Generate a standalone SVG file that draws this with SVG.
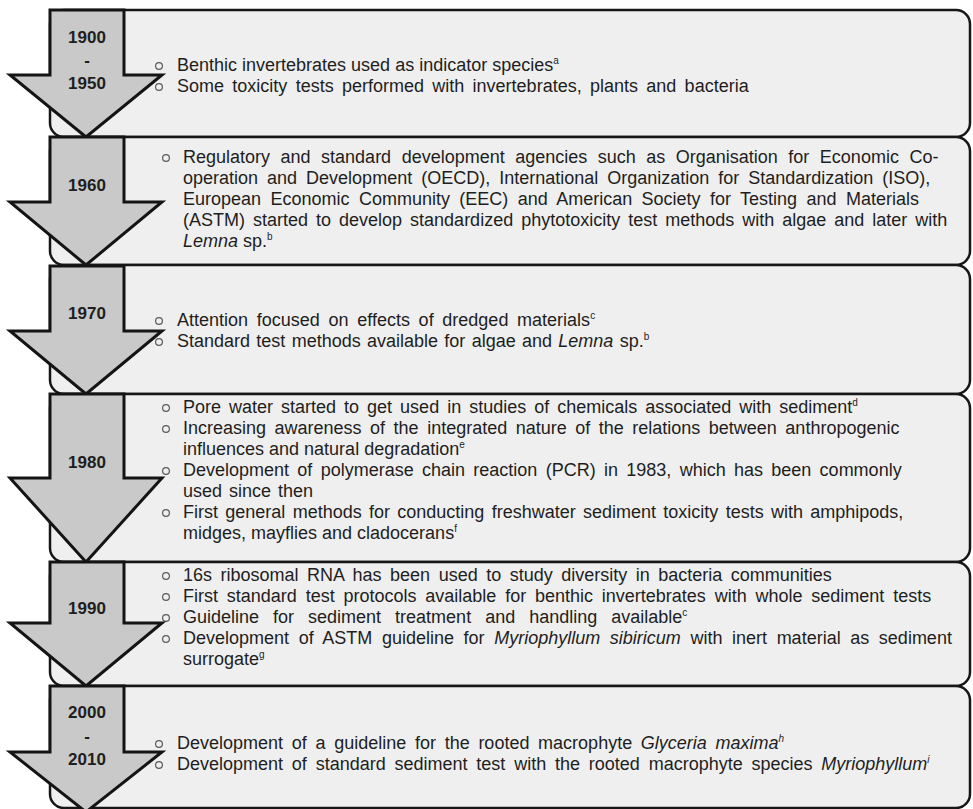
<svg xmlns="http://www.w3.org/2000/svg" width="973" height="809" viewBox="0 0 973 809">
  <style>
    .box { fill: #efefef; stroke: #161616; stroke-width: 2.5; }
    .arrow { fill: #c9c9c9; stroke: #141414; stroke-width: 3; stroke-linejoin: miter; }
    .year { font-family: "Liberation Sans", Arial, sans-serif; font-weight: bold; font-size: 17px; fill: #1e1e1e; text-anchor: middle; }
    .t { font-family: "Liberation Sans", Arial, sans-serif; font-size: 18px; fill: #1e1e1e; }
    .i { font-style: italic; }
    .sup { font-size: 10px; }
    .bul { fill: none; stroke: #5a5a5a; stroke-width: 1.2; }
  </style>
  <defs>
    <circle id="bullet" r="3.4" class="bul"/>
  </defs>
  <rect width="973" height="809" fill="#ffffff"/>

  <!-- period panels -->
  <g id="row-1900-1950">
    <rect class="box" x="50" y="10" width="920" height="127" rx="14"/>
    <use href="#bullet" x="159" y="66"/>
    <use href="#bullet" x="159" y="87"/>
    <text class="t" x="177" y="71">Benthic invertebrates used as indicator species<tspan class="sup" dy="-7">a</tspan></text>
    <text class="t" x="177" y="92" word-spacing="3.3">Some toxicity tests performed with invertebrates, plants and bacteria</text>
  </g>

  <g id="row-1960">
    <rect class="box" x="50" y="137" width="920" height="128" rx="14"/>
    <use href="#bullet" x="166" y="158"/>
    <text class="t" x="183" y="163" word-spacing="5.5">Regulatory and standard development agencies such as Organisation for Economic Co-</text>
    <text class="t" x="183" y="184" word-spacing="4">operation and Development (OECD), International Organization for Standardization (ISO),</text>
    <text class="t" x="183" y="205" word-spacing="4.4">European Economic Community (EEC) and American Society for Testing and Materials</text>
    <text class="t" x="183" y="226" word-spacing="3">(ASTM) started to develop standardized phytotoxicity test methods with algae and later with</text>
    <text class="t" x="183" y="247"><tspan class="i">Lemna</tspan> sp.<tspan class="sup" dy="-7">b</tspan></text>
  </g>

  <g id="row-1970">
    <rect class="box" x="50" y="265" width="920" height="129" rx="14"/>
    <use href="#bullet" x="159" y="321"/>
    <use href="#bullet" x="159" y="342"/>
    <text class="t" x="177" y="326" word-spacing="3.7">Attention focused on effects of dredged materials<tspan class="sup" dy="-7">c</tspan></text>
    <text class="t" x="177" y="347" word-spacing="1.3">Standard test methods available for algae and <tspan class="i">Lemna</tspan> sp.<tspan class="sup" dy="-7">b</tspan></text>
  </g>

  <g id="row-1980">
    <rect class="box" x="50" y="394" width="920" height="168" rx="14"/>
    <use href="#bullet" x="166" y="408"/>
    <use href="#bullet" x="166" y="429"/>
    <use href="#bullet" x="166" y="471"/>
    <use href="#bullet" x="166" y="513"/>
    <text class="t" x="183" y="413" word-spacing="3">Pore water started to get used in studies of chemicals associated with sediment<tspan class="sup" dy="-7">d</tspan></text>
    <text class="t" x="183" y="434" word-spacing="3.5">Increasing awareness of the integrated nature of the relations between anthropogenic</text>
    <text class="t" x="183" y="455">influences and natural degradation<tspan class="sup" dy="-7">e</tspan></text>
    <text class="t" x="183" y="476" word-spacing="3.3">Development of polymerase chain reaction (PCR) in 1983, which has been commonly</text>
    <text class="t" x="183" y="497" word-spacing="2">used since then</text>
    <text class="t" x="183" y="518" word-spacing="2.3">First general methods for conducting freshwater sediment toxicity tests with amphipods,</text>
    <text class="t" x="183" y="539">midges, mayflies and cladocerans<tspan class="sup" dy="-7">f</tspan></text>
  </g>

  <g id="row-1990">
    <rect class="box" x="50" y="562" width="920" height="124" rx="14"/>
    <use href="#bullet" x="166" y="576"/>
    <use href="#bullet" x="166" y="597"/>
    <use href="#bullet" x="166" y="618"/>
    <use href="#bullet" x="166" y="639"/>
    <text class="t" x="183" y="581" word-spacing="3.5">16s ribosomal RNA has been used to study diversity in bacteria communities</text>
    <text class="t" x="183" y="602" word-spacing="3.8">First standard test protocols available for benthic invertebrates with whole sediment tests</text>
    <text class="t" x="183" y="623" word-spacing="9">Guideline for sediment treatment and handling available<tspan class="sup" dy="-7">c</tspan></text>
    <text class="t" x="183" y="644" word-spacing="4.6">Development of ASTM guideline for <tspan class="i">Myriophyllum sibiricum</tspan> with inert material as sediment</text>
    <text class="t" x="183" y="665">surrogate<tspan class="sup" dy="-7">g</tspan></text>
  </g>

  <g id="row-2000-2010">
    <rect class="box" x="50" y="686" width="920" height="122" rx="14"/>
    <use href="#bullet" x="159" y="744"/>
    <use href="#bullet" x="159" y="765"/>
    <text class="t" x="177" y="749" word-spacing="3.7">Development of a guideline for the rooted macrophyte <tspan class="i">Glyceria maxima<tspan class="sup" dy="-7">h</tspan></tspan></text>
    <text class="t" x="177" y="770" word-spacing="3.8">Development of standard sediment test with the rooted macrophyte species <tspan class="i">Myriophyllum<tspan class="sup" dy="-7">i</tspan></tspan></text>
  </g>

  <!-- timeline arrows with period labels -->
  <g id="timeline-arrows">
    <g id="arrow-1900-1950">
      <polygon class="arrow" points="50,10 124,10 124,75 162,75 86,137 10,75 50,75"/>
      <text class="year" x="87" y="43">1900</text>
      <text class="year" x="87" y="66">-</text>
      <text class="year" x="87" y="89">1950</text>
    </g>
    <g id="arrow-1960">
      <polygon class="arrow" points="50,137 124,137 124,202 162,202 86,265 10,202 50,202"/>
      <text class="year" x="87" y="191">1960</text>
    </g>
    <g id="arrow-1970">
      <polygon class="arrow" points="50,266 124,266 124,331 162,331 86,394 10,331 50,331"/>
      <text class="year" x="87" y="319">1970</text>
    </g>
    <g id="arrow-1980">
      <polygon class="arrow" points="50,394 124,394 124,478 162,478 86,562 10,478 50,478"/>
      <text class="year" x="87" y="468">1980</text>
    </g>
    <g id="arrow-1990">
      <polygon class="arrow" points="50,562 124,562 124,623 162,623 86,686 10,623 50,623"/>
      <text class="year" x="87" y="614">1990</text>
    </g>
    <g id="arrow-2000-2010">
      <polygon class="arrow" points="50,686 124,686 124,752 162,752 86,812 10,752 50,752"/>
      <text class="year" x="87" y="718">2000</text>
      <text class="year" x="87" y="742">-</text>
      <text class="year" x="87" y="765">2010</text>
    </g>
  </g>
</svg>
